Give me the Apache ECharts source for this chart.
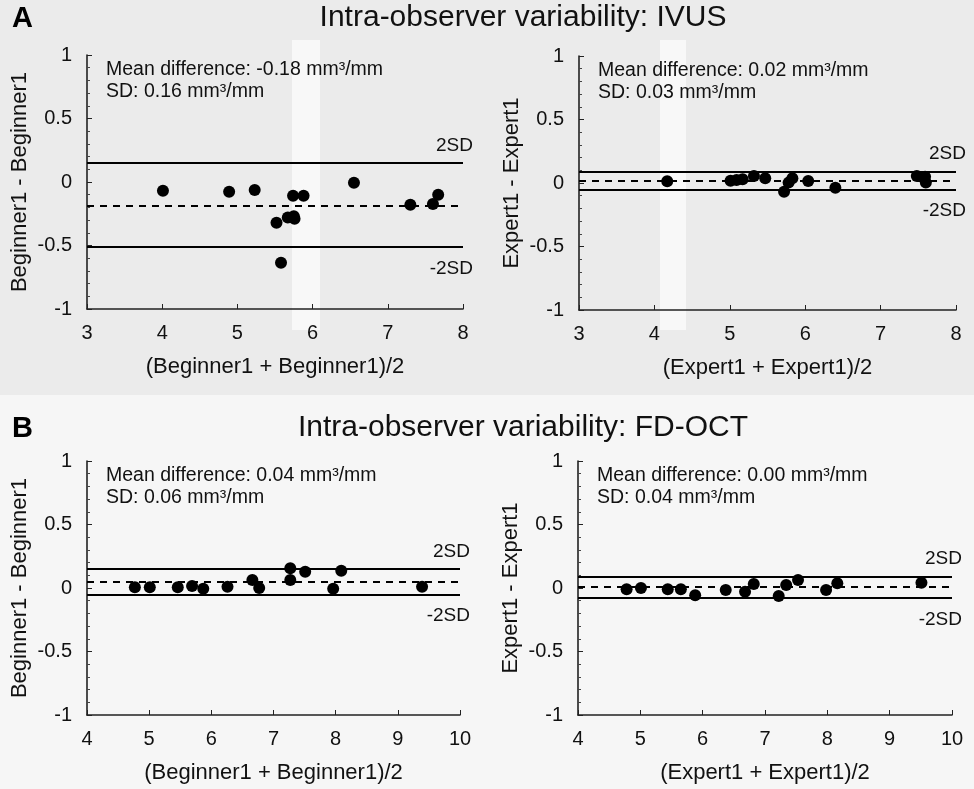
<!DOCTYPE html>
<html>
<head>
<meta charset="utf-8">
<script src="https://cdn.jsdelivr.net/npm/echarts@6/dist/echarts.min.js"></script>
<style>html,body{margin:0;padding:0;background:#f6f6f6;}#c{width:974px;height:789px;}</style>
</head>
<body>
<div id="c"></div>
<script>
// ---- data ----
const panelTitles = ['Intra-observer variability: IVUS', 'Intra-observer variability: FD-OCT'];
const panelLetters = ['A', 'B'];
const xNames = ['(Beginner1 + Beginner1)/2', '(Expert1 + Expert1)/2', '(Beginner1 + Beginner1)/2', '(Expert1 + Expert1)/2'];
const yNames = ['Beginner1 - Beginner1', 'Expert1 - Expert1', 'Beginner1 - Beginner1', 'Expert1 - Expert1'];
const meanTexts = ['Mean difference: -0.18 mm³/mm', 'Mean difference: 0.02 mm³/mm', 'Mean difference: 0.04 mm³/mm', 'Mean difference: 0.00 mm³/mm'];
const sdTexts = ['SD: 0.16 mm³/mm', 'SD: 0.03 mm³/mm', 'SD: 0.06 mm³/mm', 'SD: 0.04 mm³/mm'];
const limitLabels = ['2SD', '-2SD'];
const xRanges = [[3, 8], [3, 8], [4, 10], [4, 10]];
const yRange = [-1, 1];

// [upper 2SD, mean, lower 2SD]
const linesA1 = [0.147, -0.186, -0.509];
const linesA2 = [0.094, 0.021, -0.047];
const linesB1 = [0.155, 0.053, -0.05];
const linesB2 = [0.094, 0.01, -0.084];

const pointsA1 = [[4.01,-0.068],[4.89,-0.076],[5.23,-0.063],[5.52,-0.32],[5.58,-0.635],[5.67,-0.28],[5.75,-0.27],[5.76,-0.29],[5.74,-0.108],[5.88,-0.108],[6.55,-0.005],[7.30,-0.18],[7.60,-0.173],[7.67,-0.10]];
const pointsA2 = [[4.17,0.013],[5.01,0.018],[5.09,0.024],[5.17,0.029],[5.32,0.055],[5.47,0.037],[5.72,-0.068],[5.78,0.003],[5.83,0.037],[6.04,0.016],[6.40,-0.037],[7.48,0.055],[7.59,0.05],[7.60,0.003]];
const pointsB1 = [[4.77,0.005],[5.01,0.005],[5.46,0.005],[5.69,0.016],[5.87,-0.005],[6.26,0.01],[6.66,0.063],[6.77,0.0],[7.27,0.155],[7.27,0.063],[7.51,0.128],[7.96,-0.005],[8.09,0.136],[9.39,0.01]];
const pointsB2 = [[4.78,-0.01],[5.01,0.0],[5.44,-0.01],[5.65,-0.01],[5.88,-0.058],[6.37,-0.016],[6.68,-0.029],[6.82,0.031],[7.22,-0.063],[7.34,0.024],[7.53,0.063],[7.98,-0.016],[8.16,0.037],[9.51,0.042]];

const allPoints = [pointsA1, pointsA2, pointsB1, pointsB2];
const allLines = [linesA1, linesA2, linesB1, linesB2];

// ---- layout ----
const grids = [
  {left: 87, top: 55, width: 376, height: 254},
  {left: 579, top: 56, width: 377, height: 254},
  {left: 87, top: 461, width: 373, height: 254},
  {left: 578, top: 461, width: 374, height: 254}
];
const FONT = '"Liberation Sans", Arial, sans-serif';
const txt = '#111';

const xAxes = [], yAxes = [], series = [], titles = [];
grids.forEach((g, i) => {
  xAxes.push({
    type: 'value', gridIndex: i, min: xRanges[i][0], max: xRanges[i][1], interval: 1,
    name: xNames[i], nameLocation: 'middle', nameGap: 47,
    nameTextStyle: {fontFamily: FONT, fontSize: 22, color: txt},
    axisLine: {show: true, onZero: false, lineStyle: {color: '#222', width: 1.6}},
    axisTick: {show: true, inside: true, length: 5, lineStyle: {color: '#222'}},
    axisLabel: {fontFamily: FONT, fontSize: 20, color: txt, margin: 14},
    splitLine: {show: false}
  });
  yAxes.push({
    type: 'value', gridIndex: i, min: yRange[0], max: yRange[1], interval: 0.5,
    name: yNames[i], nameLocation: 'middle', nameGap: 56, nameRotate: 90,
    nameTextStyle: {fontFamily: FONT, fontSize: 22, color: txt},
    axisLine: {show: true, onZero: false, lineStyle: {color: '#222', width: 1.6}},
    axisTick: {show: true, inside: true, length: 5, lineStyle: {color: '#222'}},
    minorTick: {show: true, splitNumber: 5, length: 3, lineStyle: {color: '#444'}},
    axisLabel: {fontFamily: FONT, fontSize: 20, color: txt, margin: 15},
    splitLine: {show: false}
  });
  const L = allLines[i];
  series.push({
    type: 'scatter', xAxisIndex: i, yAxisIndex: i,
    data: allPoints[i], symbolSize: 12,
    itemStyle: {color: '#000', opacity: 1},
    z: 5,
    markLine: {
      silent: true, symbol: 'none', animation: false,
      data: [
        {yAxis: L[0], lineStyle: {type: 'solid', color: '#000', width: 2},
         label: {show: true, formatter: limitLabels[0], position: 'insideEndTop', distance: [-10, 8], fontFamily: FONT, fontSize: 19, color: txt}},
        {yAxis: L[1], lineStyle: {type: [7, 6], color: '#000', width: 2}, label: {show: false}},
        {yAxis: L[2], lineStyle: {type: 'solid', color: '#000', width: 2},
         label: {show: true, formatter: limitLabels[1], position: 'insideEndBottom', distance: [-10, 12], fontFamily: FONT, fontSize: 19, color: txt}}
      ]
    }
  });
  titles.push({
    text: meanTexts[i] + '\n' + sdTexts[i],
    left: g.left + 19, top: g.top + 3, padding: 0,
    textStyle: {fontFamily: FONT, fontSize: 19.5, fontWeight: 'normal', color: txt, lineHeight: 22.5}
  });
});
[0, 1].forEach(r => {
  const top = r === 0 ? 3 : 413;
  titles.push({text: panelTitles[r], left: 523, top: top, textAlign: 'center', padding: 0,
    textStyle: {fontFamily: FONT, fontSize: 30, fontWeight: 'normal', color: txt}});
  titles.push({text: panelLetters[r], left: 12, top: top + 1, padding: 0,
    textStyle: {fontFamily: FONT, fontSize: 29, fontWeight: 'bold', color: '#000'}});
});

const chart = echarts.init(document.getElementById('c'), null, {renderer: 'canvas'});
chart.setOption({
  backgroundColor: '#f6f6f6',
  animation: false,
  graphic: [
    {type: 'rect', z: -100, silent: true, shape: {x: 0, y: 0, width: 974, height: 395}, style: {fill: '#ebebeb'}},
    {type: 'rect', z: -99, silent: true, shape: {x: 292, y: 40, width: 28, height: 290}, style: {fill: '#f8f8f8'}},
    {type: 'rect', z: -99, silent: true, shape: {x: 660, y: 40, width: 26, height: 290}, style: {fill: '#f8f8f8'}}
  ],
  title: titles,
  grid: grids,
  xAxis: xAxes,
  yAxis: yAxes,
  series: series
});
</script>
</body>
</html>
